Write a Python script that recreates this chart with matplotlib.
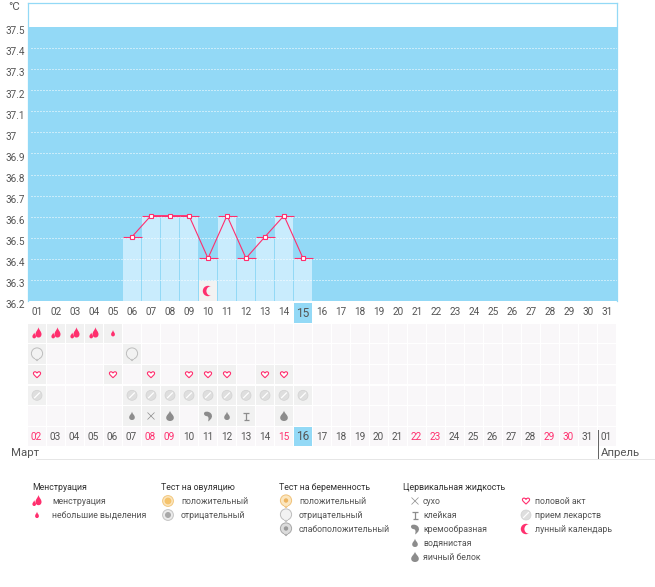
import matplotlib
matplotlib.use("Agg")
import matplotlib.pyplot as plt
from matplotlib.path import Path
from matplotlib.patches import PathPatch
from matplotlib.transforms import Affine2D, ScaledTranslation

plt.rcParams['font.family'] = ['Roboto', 'DejaVu Sans']

# ---------- data ----------
columns = list(range(1, 32))
temp_days = [6, 7, 8, 9, 10, 11, 12, 13, 14, 15]
temp_values = [36.505, 36.605, 36.605, 36.605, 36.403, 36.605, 36.403, 36.505, 36.605, 36.403]
y_ticks = [37.5, 37.4, 37.3, 37.2, 37.1, 37.0, 36.9, 36.8, 36.7, 36.6, 36.5, 36.4, 36.3, 36.2]
y_labels = ['37.5', '37.4', '37.3', '37.2', '37.1', '37', '36.9', '36.8', '36.7', '36.6',
            '36.5', '36.4', '36.3', '36.2']
top_labels = [f'{d:02d}' for d in columns]
bottom_labels = [f'{d:02d}' for d in range(2, 32)] + ['01']
bottom_red = ['02', '08', '09', '15', '22', '23', '29', '30']
today_column = 15
moon_column = 10

row_menses_big = [1, 2, 3, 4]
row_menses_small = [5]
row_preg_neg = [1, 6]
row_sex = [1, 5, 7, 9, 10, 11, 13, 14]
row_pills = [1, 6, 7, 8, 9, 10, 11, 12, 13, 14, 15]
row_fluid = {6: 'water', 7: 'dry', 8: 'egg', 10: 'cream', 11: 'water', 12: 'sticky', 14: 'egg'}

legend_groups = [
    ('Менструация', 32, 52, 37, [('flame', 'менструация'), ('drop_small', 'небольшие выделения')]),
    ('Тест на овуляцию', 161, 181, 168, [('ov_pos', 'положительный'), ('ov_neg', 'отрицательный')]),
    ('Тест на беременность', 279, 299, 286, [('preg_pos', 'положительный'), ('preg_neg', 'отрицательный'),
                                             ('preg_weak', 'слабоположительный')]),
    ('Цервикальная жидкость', 403, 423, 415, [('dry', 'сухо'), ('sticky', 'клейкая'), ('cream', 'кремообразная'),
                                              ('water', 'водянистая'), ('egg', 'яичный белок')]),
    ('', 0, 535, 526, [('heart', 'половой акт'), ('pill', 'прием лекарств'), ('moon', 'лунный календарь')]),
]

# ---------- style ----------
W, H = 655, 587
BLUE = '#93d9f6'
BAR = '#c9ecfd'
PINK = '#ff2f6e'
TEXT = '#555555'
GRAY = '#8c8c8c'

fig = plt.figure(figsize=(W / 100, H / 100), dpi=100, facecolor='white')


def axes_px(x0, y0, x1, y1, **kw):
    return fig.add_axes([x0 / W, 1 - y1 / H, (x1 - x0) / W, (y1 - y0) / H], **kw)


# ---------- icons ----------
def P(ax, x, y, path, **kw):
    X, Y = ax.transData.transform((x, y))
    tr = Affine2D().scale(1, -1).translate(X, Y)
    kw.setdefault('lw', 0)
    ax.add_patch(PathPatch(path, transform=tr, clip_on=False, zorder=6, **kw))


def circ(r, cx=0, cy=0):
    return Path.circle((cx, cy), r)


def drop_path(cx, cy, w, h):
    t = cy - h / 2
    m = cy + h / 6
    b = cy + h / 2
    v = [(cx, t), (cx + .12 * w, cy - .2 * h), (cx + w / 2, cy - .1 * h), (cx + w / 2, m),
         (cx + w / 2, b + .08 * h), (cx - w / 2, b + .08 * h), (cx - w / 2, m),
         (cx - w / 2, cy - .1 * h), (cx - .12 * w, cy - .2 * h), (cx, t), (cx, t)]
    c = [Path.MOVETO] + [Path.CURVE4] * 9 + [Path.CLOSEPOLY]
    return Path(v, c)


def heart_path():
    s = 0.85
    v = [(0, 3.6), (-2, 1.6), (-4.2, 0), (-4.2, -1.5), (-4.2, -4), (-1, -4), (0, -1.8),
         (1, -4), (4.2, -4), (4.2, -1.5), (4.2, 0), (2, 1.6), (0, 3.6), (0, 3.6)]
    c = [Path.MOVETO] + [Path.CURVE4] * 12 + [Path.CLOSEPOLY]
    return Path([(a * s, b * s) for a, b in v], c)


def bubble(ax, x, y, r, fc, ec):
    tail = Path([(-2.6, r - 1.8), (0, r + 1.2), (2.6, r - 1.8), (-2.6, r - 1.8)],
                [Path.MOVETO, Path.LINETO, Path.LINETO, Path.CLOSEPOLY])
    P(ax, x, y, tail, fc=fc, ec=ec, lw=0.7)
    P(ax, x, y, circ(r, 0, -0.5), fc=fc, ec=ec, lw=0.7)
    P(ax, x, y, Path([(-2, r - 1.8), (2, r - 1.8)]), fc='none', ec=fc, lw=1.2)


def line_path(*pts):
    return Path(pts)


def icon(ax, kind, x, y, bg='white'):
    if kind == 'flame':
        P(ax, x, y, drop_path(1.5, -0.8, 6, 10.5), fc=PINK)
        P(ax, x, y, drop_path(-2.8, 2.2, 3.6, 6), fc=PINK)
    elif kind == 'drop_small':
        P(ax, x, y, drop_path(0, 0, 3.8, 6.5), fc=PINK)
    elif kind == 'heart':
        P(ax, x, y, heart_path(), fc='white', ec=PINK, lw=0.8)
    elif kind == 'pill':
        P(ax, x, y, circ(5), fc='#dedede', ec='#d2d2d2', lw=0.5)
        P(ax, x, y, line_path((-2.8, 2.8), (2.8, -2.8)), fc='none', ec='white', lw=0.9)
    elif kind == 'moon':
        P(ax, x, y, circ(5.2), fc=PINK)
        P(ax, x, y, circ(4.8, 3.2, 0), fc=bg)
    elif kind == 'ov_pos':
        P(ax, x, y, circ(5.4), fc='#fbe6bf', ec='#f3c77d', lw=0.7)
        P(ax, x, y, circ(3.4), fc='#f5c36c')
    elif kind == 'ov_neg':
        P(ax, x, y, circ(5.4), fc='#ececec', ec='#c4c4c4', lw=0.7)
        P(ax, x, y, circ(3.0), fc='#a9a9a9')
    elif kind == 'preg_neg':
        bubble(ax, x, y, 5.6, '#f2f2f2', '#bdbdbd')
    elif kind == 'preg_pos':
        bubble(ax, x, y, 5.6, '#fbe6bf', '#f0c27a')
        P(ax, x, y, circ(2.2, 0, -0.5), fc='#eeb45f')
    elif kind == 'preg_weak':
        bubble(ax, x, y, 5.6, '#dcdcdc', '#a8a8a8')
        P(ax, x, y, circ(2.2, 0, -0.5), fc='#9a9a9a')
    elif kind == 'dry':
        P(ax, x, y, line_path((-3.5, -3.5), (3.5, 3.5)), fc='none', ec=GRAY, lw=0.5)
        P(ax, x, y, line_path((-3.5, 3.5), (3.5, -3.5)), fc='none', ec=GRAY, lw=0.5)
    elif kind == 'sticky':
        P(ax, x, y, line_path((-3, -3.5), (3, -3.5)), fc='none', ec=GRAY, lw=0.9)
        P(ax, x, y, line_path((0, -3.5), (0, 3.5)), fc='none', ec=GRAY, lw=0.9)
        P(ax, x, y, line_path((-2.5, 3.5), (2.5, 3.5)), fc='none', ec=GRAY, lw=0.9)
    elif kind == 'cream':
        v = [(-4, -2.5), (-4, -5), (1, -5), (3, -2.5), (5, 0), (4, 3), (0, 5.5),
             (1, 2.5), (0.5, 0.5), (-1, 0.2), (-3, 0), (-4, -1), (-4, -2.5), (-4, -2.5)]
        c = [Path.MOVETO] + [Path.CURVE4] * 12 + [Path.CLOSEPOLY]
        P(ax, x, y, Path(v, c), fc=GRAY)
    elif kind == 'water':
        P(ax, x, y, drop_path(0, 0, 5.6, 8.5), fc=GRAY)
    elif kind == 'egg':
        P(ax, x, y, drop_path(0, 0, 7.6, 10.5), fc=GRAY)


# ---------- main chart ----------
y_per_px = 1.3 / 274
ax = axes_px(27.5, 3, 616.5, 301)
ax.set_xlim(0.5, 31.5)
ax.set_ylim(36.2, 37.5 + 24 * y_per_px)
ax.set_facecolor('white')
ax.axhspan(36.2, 37.5, color=BLUE, lw=0, zorder=0)
ax.bar(temp_days, [v - 36.2 for v in temp_values], bottom=36.2, width=18 / 19, color=BAR, lw=0, zorder=1)
ax.hlines(y_ticks[1:], 0.5 + 3 / 19, 31.5, colors='white', lw=0.72, linestyles=(0, (1, 2)), zorder=2)
for d, v in zip(temp_days, temp_values):
    ax.plot([d - 9.5 / 19, d + 9.5 / 19], [v, v], color=PINK, lw=0.8, solid_capstyle='butt', zorder=3)
ax.plot(temp_days, temp_values, color=PINK, lw=0.8, zorder=4, marker='s', ms=3.4, mfc='white', mec=PINK, mew=0.8)

for s in ('left', 'right', 'top'):
    ax.spines[s].set_color(BLUE)
    ax.spines[s].set_linewidth(0.9)
ax.spines['bottom'].set_visible(False)

ax.set_yticks(y_ticks)
ax.set_yticklabels(y_labels, ha='left', color=TEXT, fontsize=7.2)
ax.tick_params(axis='y', length=0, pad=16)
shift = ScaledTranslation(0, -2.4 / 72, fig.dpi_scale_trans)
for lab in ax.get_yticklabels():
    lab.set_transform(lab.get_transform() + shift)
ax.set_xticks(columns)
ax.set_xticklabels(top_labels, color=TEXT, fontsize=7.2)
ax.tick_params(axis='x', length=0, pad=4.5)
for lab, col in zip(ax.get_xticklabels(), columns):
    if col == today_column:
        lab.set_fontsize(8.6)
ax.bar([today_column], [-20 * y_per_px], bottom=36.2 - 2 * y_per_px, width=18 / 19, color=BLUE, lw=0,
       clip_on=False, zorder=-1)
# the moon tile sits inside the chart
ax.bar([moon_column], [20 * y_per_px], bottom=36.2, width=18 / 19, color='#f2f2f2', lw=0, zorder=3)
icon(ax, 'moon', moon_column, 36.2 + 10 * y_per_px, bg='#f2f2f2')

# ---------- tile grid ----------
tg = axes_px(27.5, 323, 616.5, 447)
tg.set_xlim(0.5, 31.5)
tg.set_ylim(5.5, -0.5)
tg.axis('off')
tg.patch.set_alpha(0)
for r in range(6):
    tg.bar(columns, 0.92, bottom=r - 0.46, width=18 / 19, color='#f9f7f9', lw=0, zorder=1)


def mark(cols, row, kind):
    tg.bar(cols, 0.92, bottom=row - 0.46, width=18 / 19, color='#f1f1f1', lw=0, zorder=2)
    for c in cols:
        icon(tg, kind, c, row, bg='#f1f1f1')


mark(row_menses_big, 0, 'flame')
mark(row_menses_small, 0, 'drop_small')
for c in row_preg_neg:
    mark([c], 1, 'preg_neg')
mark(row_sex, 2, 'heart')
mark(row_pills, 3, 'pill')
for c, k in row_fluid.items():
    mark([c], 4, k)

tg.bar([today_column], 0.92, bottom=5 - 0.46, width=18 / 19, color=BLUE, lw=0, zorder=3)
for col, lab in zip(columns, bottom_labels):
    col_color = PINK if lab in bottom_red else TEXT
    size = 8.6 if col == today_column else 7.2
    tg.text(col - 0.03, 5, lab, ha='center', va='center', color=col_color, fontsize=size, zorder=4)

# ---------- page furniture and legend (pixel coordinates) ----------
pg = axes_px(0, 0, W, H)
pg.set_xlim(0, W)
pg.set_ylim(H, 0)
pg.axis('off')
pg.patch.set_alpha(0)

pg.text(8, 7, '°C', ha='left', va='center', color=TEXT, fontsize=8.2)
pg.text(11, 453.5, 'Март', ha='left', va='center', color=TEXT, fontsize=8.2)
pg.text(601, 453.5, 'Апрель', ha='left', va='center', color=TEXT, fontsize=8.2)
pg.plot([36, W], [458.5, 458.5], color='#e6e6e6', lw=0.72)
pg.plot([597.5, 597.5], [430, 458], color='#666666', lw=0.72)
pg.plot([26, 617], [586.5, 586.5], color='#e6e6e6', lw=0.72)

for title, tx, lx, ix, items in legend_groups:
    if title:
        pg.text(tx, 487, title, ha='left', va='center', color='#333333', fontsize=6.3)
    for i, (kind, label) in enumerate(items):
        yy = 501 + 14 * i
        icon(pg, kind, ix, yy)
        pg.text(lx, yy, label, ha='left', va='center', color=TEXT, fontsize=6.3)

fig.savefig('out.png', dpi=100)
